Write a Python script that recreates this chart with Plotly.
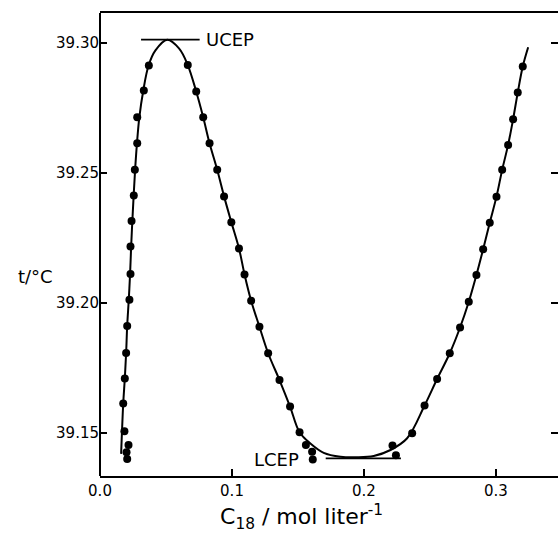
import plotly.graph_objects as go

# measured points (C18 concentration, temperature)
pt_c = [0.0206, 0.0201, 0.0216, 0.0185, 0.0176, 0.0188, 0.0198, 0.0206, 0.0223, 0.0231,
        0.0231, 0.0239, 0.0256, 0.0264, 0.0282, 0.0282, 0.0332, 0.0370,
        0.0665, 0.0729, 0.0782, 0.0830, 0.0888, 0.0940, 0.0995, 0.1053, 0.1095, 0.1145,
        0.1208, 0.1274, 0.1360, 0.1440, 0.1512, 0.1560, 0.1607, 0.1612,
        0.2216, 0.2242, 0.2365, 0.2459, 0.2554, 0.2650, 0.2728, 0.2794, 0.2852, 0.2903,
        0.2953, 0.3004, 0.3047, 0.3092, 0.3130, 0.3165, 0.3203]
pt_t = [39.1400, 39.1426, 39.1454, 39.1507, 39.1614, 39.1710, 39.1808, 39.1912, 39.2013, 39.2112,
        39.2217, 39.2315, 39.2413, 39.2512, 39.2614, 39.2714, 39.2817, 39.2913,
        39.2915, 39.2813, 39.2714, 39.2614, 39.2512, 39.2410, 39.2311, 39.2210, 39.2110, 39.2009,
        39.1909, 39.1807, 39.1704, 39.1602, 39.1503, 39.1454, 39.1428, 39.1398,
        39.1452, 39.1415, 39.1499, 39.1606, 39.1708, 39.1807, 39.1906, 39.2005, 39.2108, 39.2207,
        39.2309, 39.2409, 39.2512, 39.2608, 39.2707, 39.2809, 39.2909]

# smooth coexistence curve
curve_c = [0.0160, 0.0176, 0.0188, 0.0198, 0.0206, 0.0218, 0.0228, 0.0236, 0.0245, 0.0255,
           0.0266, 0.0280, 0.0298, 0.0328, 0.0368, 0.0420, 0.0509, 0.0600, 0.0665, 0.0729,
           0.0782, 0.0830, 0.0888, 0.0940, 0.0995, 0.1053, 0.1095, 0.1145, 0.1208, 0.1274,
           0.1360, 0.1440, 0.1512, 0.1594, 0.1695, 0.1822, 0.1948, 0.2074, 0.2201, 0.2327,
           0.2459, 0.2554, 0.2650, 0.2728, 0.2794, 0.2852, 0.2903, 0.2953, 0.3004, 0.3047,
           0.3092, 0.3130, 0.3165, 0.3203, 0.3244]
curve_t = [39.1420, 39.1614, 39.1710, 39.1808, 39.1912, 39.2013, 39.2112, 39.2217, 39.2315, 39.2413,
           39.2512, 39.2614, 39.2714, 39.2817, 39.2913, 39.2971, 39.3012, 39.2978, 39.2915, 39.2813,
           39.2714, 39.2614, 39.2512, 39.2410, 39.2311, 39.2210, 39.2110, 39.2009, 39.1909, 39.1807,
           39.1704, 39.1602, 39.1503, 39.1460, 39.1424, 39.1409, 39.1407, 39.1412, 39.1435, 39.1480,
           39.1606, 39.1708, 39.1807, 39.1906, 39.2005, 39.2108, 39.2207, 39.2309, 39.2409, 39.2512,
           39.2608, 39.2707, 39.2809, 39.2909, 39.2983]

ucep_c = [0.0311, 0.0755]
ucep_t = [39.3013, 39.3013]
lcep_c = [0.171, 0.228]
lcep_t = [39.1403, 39.1403]

x_ticks = [0.0, 0.1, 0.2, 0.3]
x_ticklabels = ["0.0", "0.1", "0.2", "0.3"]
y_ticks = [39.15, 39.20, 39.25, 39.30]
y_ticklabels = ["39.15", "39.20", "39.25", "39.30"]

FONT = "DejaVu Sans"

fig = go.Figure()
fig.add_trace(go.Scatter(x=curve_c, y=curve_t, mode="lines",
                         line=dict(color="black", width=2, shape="spline", smoothing=1.0),
                         hoverinfo="skip", showlegend=False))
fig.add_trace(go.Scatter(x=ucep_c, y=ucep_t, mode="lines",
                         line=dict(color="black", width=1.8), showlegend=False))
fig.add_trace(go.Scatter(x=lcep_c, y=lcep_t, mode="lines",
                         line=dict(color="black", width=1.8), showlegend=False))
fig.add_trace(go.Scatter(x=pt_c, y=pt_t, mode="markers",
                         marker=dict(color="black", size=8, symbol="circle"),
                         showlegend=False))

fig.add_annotation(x=0.0790, y=39.3013, xref="x", yref="y", text="UCEP",
                   showarrow=False, xanchor="left", yanchor="middle",
                   font=dict(family=FONT, size=18, color="black"))
fig.add_annotation(x=0.1525, y=39.1400, xref="x", yref="y", text="LCEP",
                   showarrow=False, xanchor="right", yanchor="middle",
                   font=dict(family=FONT, size=18, color="black"))
fig.add_annotation(x=-0.098, y=0.43, xref="paper", yref="paper", text="t/°C",
                   showarrow=False, xanchor="right", yanchor="middle",
                   font=dict(family=FONT, size=18, color="black"))
fig.add_annotation(x=0.439, y=-0.088, xref="paper", yref="paper",
                   text="C<sub>18</sub> / mol liter<sup>-1</sup>",
                   showarrow=False, xanchor="center", yanchor="middle",
                   font=dict(family=FONT, size=22, color="black"))

tick_common = dict(showgrid=False, ticks="inside", ticklen=7, tickwidth=1.5,
                   tickcolor="black", tickfont=dict(family=FONT, size=15, color="black"))

fig.update_xaxes(range=[0.0, 0.3470], tickvals=x_ticks, ticktext=x_ticklabels,
                 showline=True, linecolor="black", linewidth=1.5, mirror=True,
                 zeroline=True, zerolinecolor="black", zerolinewidth=1.5, **tick_common)
fig.update_yaxes(range=[39.1335, 39.3115], tickvals=y_ticks, ticktext=y_ticklabels,
                 showline=False, mirror="ticks", zeroline=False, **tick_common)

fig.update_layout(width=558, height=535, margin=dict(l=100, r=0, t=13, b=59),
                  plot_bgcolor="white", paper_bgcolor="white")

fig.write_html("out.html")
